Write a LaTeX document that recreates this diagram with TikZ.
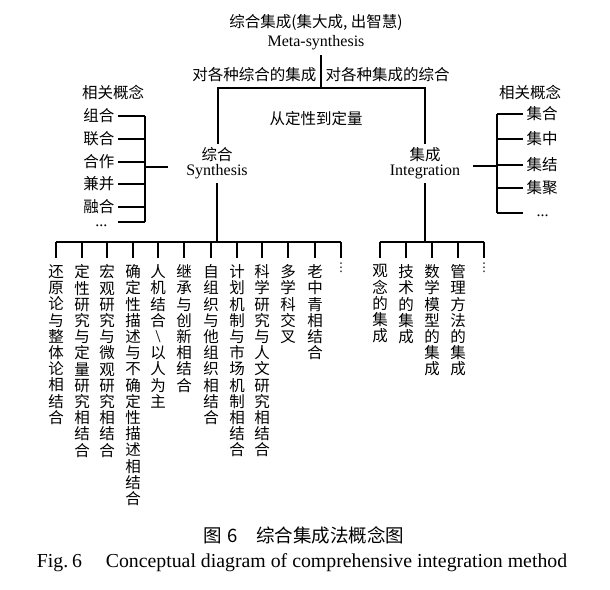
\documentclass[tikz,border=0pt]{standalone}
\usepackage{fontspec}
\setmainfont{Liberation Serif}
\newfontfamily\cjk{Noto Sans CJK SC}
\newfontfamily\dvu{DejaVu Sans}
\begin{document}
\begin{tikzpicture}[x=1pt,y=-1pt,line width=1.4pt,
  zh/.style={font=\cjk\fontsize{15.5}{16}\selectfont,inner sep=0pt},
  en/.style={font=\fontsize{16}{16}\selectfont,inner sep=0pt},
  vcol/.style={font=\cjk\fontsize{15.5}{16.2}\selectfont,inner sep=0pt,align=center,anchor=north},
  vdots/.style={font=\dvu\fontsize{12}{12}\selectfont,inner sep=0pt,anchor=north},
  captxt/.style={font=\fontsize{19.8}{22}\selectfont,inner sep=0pt}]
\useasboundingbox (0,0) rectangle (610,589);
% top
\node[zh] (top1) at (316,22) {综合集成(集大成, 出智慧)};
\node[en] (top2) at (316,43) {Meta-synthesis};
\coordinate (tb) at (321,55);
\coordinate (tj) at (321,88);
\draw (tb) -- (tj);
\node[zh,anchor=east] (la) at (317,75) {对各种综合的集成};
\node[zh,anchor=west] (ra) at (325,75) {对各种集成的综合};
\node[zh] (qq) at (316,119) {从定性到定量};
% synthesis / integration
\node[zh] (syn1) at (217,155) {综合};
\node[en] (syn2) at (217,172) {Synthesis};
\node[zh] (int1) at (425,155) {集成};
\node[en] (int2) at (425,172) {Integration};
\coordinate (lc) at (218,88);
\coordinate (rc) at (425,88);
\coordinate (lce) at (218,144);
\coordinate (rce) at (425,144);
\draw (lce) -- (lc) -- (rc) -- (rce);
% left concepts
\node[zh] (lh) at (113,92) {相关概念};
\coordinate (lv) at (145,0);
\node[zh,anchor=east] (l1) at (115,116) {组合};
\node[zh,anchor=east] (l2) at (115,139) {联合};
\node[zh,anchor=east] (l3) at (115,162) {合作};
\node[zh,anchor=east] (l4) at (115,184) {兼并};
\node[zh,anchor=east] (l5) at (115,207) {融合};
\node[en,anchor=base east] (l6) at (108,226) {...};
\coordinate (l6e) at (118,222);
\foreach \n in {l1,l2,l3,l4,l5}{\draw ([xshift=3pt]\n.east) -- (\n -| lv);}
\draw (l6e) -- (l6e -| lv);
\draw (l1 -| lv) -- (l6e -| lv);
\coordinate (ls) at (168,167);
\draw (ls) -- (ls -| lv);
% right concepts
\node[zh] (rh) at (530,92) {相关概念};
\coordinate (rv) at (497,0);
\node[zh,anchor=west] (r1) at (526,114) {集合};
\node[zh,anchor=west] (r2) at (526,139) {集中};
\node[zh,anchor=west] (r3) at (526,165) {集结};
\node[zh,anchor=west] (r4) at (526,188) {集聚};
\node[en,anchor=base west] (r5) at (536,216) {...};
\coordinate (r5w) at (523,213);
\foreach \n in {r1,r2,r3,r4}{\draw ([xshift=-3pt]\n.west) -- (\n -| rv);}
\draw (r5w) -- (r5w -| rv);
\draw (r1 -| rv) -- (r5w -| rv);
\coordinate (rs) at (473,166);
\draw (rs) -- (rs -| rv);
% left bus
\coordinate (lbt) at (217,183);
\coordinate (lbj) at (217,242);
\draw (lbt) -- (lbj);
\coordinate (lb1) at (56,242);
\coordinate (lb2) at (341,242);
\draw (lb1) -- (lb2);
\foreach \x/\t [count=\i] in {
  56/{还\\原\\论\\与\\整\\体\\论\\相\\结\\合},
  82/{定\\性\\研\\究\\与\\定\\量\\研\\究\\相\\结\\合},
  107/{宏\\观\\研\\究\\与\\微\\观\\研\\究\\相\\结\\合},
  133/{确\\定\\性\\描\\述\\与\\不\\确\\定\\性\\描\\述\\相\\结\\合},
  158/{人\\机\\结\\合\\{\rmfamily\fontsize{18}{16.2}\selectfont\textbackslash}\\以\\人\\为\\主},
  184/{继\\承\\与\\创\\新\\相\\结\\合},
  211/{自\\组\\织\\与\\他\\组\\织\\相\\结\\合},
  237/{计\\划\\机\\制\\与\\市\\场\\机\\制\\相\\结\\合},
  262/{科\\学\\研\\究\\与\\人\\文\\研\\究\\相\\结\\合},
  288/{多\\学\\科\\交\\叉},
  315/{老\\中\\青\\相\\结\\合}}{
  \coordinate (lt\i) at (\x,242);
  \node[vcol] (lc\i) at (\x,264) {\t};
  \draw (lt\i) -- (\x,258);
}
\coordinate (lt12) at (341,242);
\draw (lt12) -- (341,258);
\node[vdots] (lc12) at (341,262) {⋮};
% right bus
\coordinate (rbt) at (425,183);
\coordinate (rbj) at (425,242);
\draw (rbt) -- (rbj);
\coordinate (rb1) at (380,242);
\coordinate (rb2) at (484,242);
\draw (rb1) -- (rb2);
\foreach \x/\t [count=\i] in {
  380/{观\\念\\的\\集\\成},
  406/{技\\术\\的\\集\\成},
  432/{数\\学\\模\\型\\的\\集\\成},
  458/{管\\理\\方\\法\\的\\集\\成}}{
  \coordinate (rt\i) at (\x,242);
  \node[vcol] (rcol\i) at (\x,264) {\t};
  \draw (rt\i) -- (\x,258);
}
\coordinate (rt5) at (484,242);
\draw (rt5) -- (484,258);
\node[vdots] (rcol5) at (484,262) {⋮};
% captions
\node[captxt,font=\cjk\fontsize{18.5}{20}\selectfont] (c1) at (304,535) {图\hspace{0.3em}6\hspace{1em}综合集成法概念图};
\node[captxt] (c2) at (302,563) {Fig.\hspace{0.2em}6\hspace{1.2em}Conceptual diagram of comprehensive integration method};
\end{tikzpicture}
\end{document}
